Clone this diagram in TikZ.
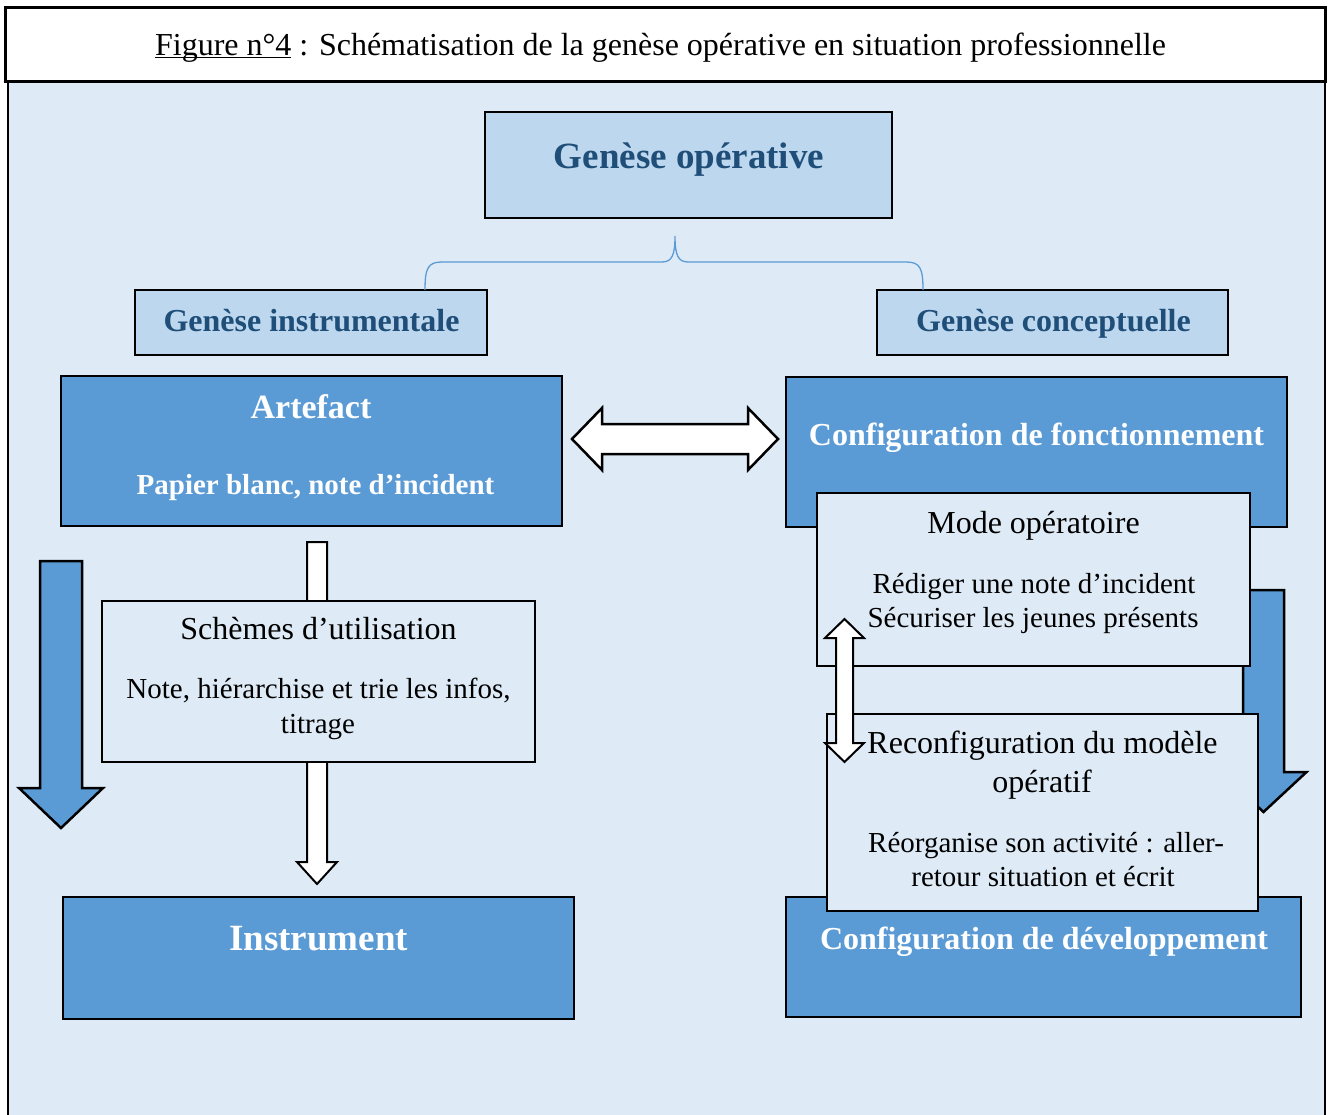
\documentclass[tikz,border=0pt]{standalone}
\usepackage{fontspec}
\setmainfont{Liberation Serif}
\usetikzlibrary{calc}
\definecolor{bgblue}{HTML}{DEEBF7}
\definecolor{lightblue}{HTML}{BDD7EE}
\definecolor{midblue}{HTML}{5B9BD5}
\definecolor{darkblue}{HTML}{1F4E79}
% vertical block arrow pointing down: #1 top, #2 tip, #3 shaft half width, #4 head half width, #5 head length, #6 style
\newcommand{\blockdown}[6]{%
  \draw[#6] ($(#1)+(-#3,0)$) -- ($(#1)+(#3,0)$) -- ($(#2)+(#3,-#5)$) -- ($(#2)+(#4,-#5)$) -- (#2)
    -- ($(#2)+(-#4,-#5)$) -- ($(#2)+(-#3,-#5)$) -- cycle;}
% horizontal double block arrow: #1 left tip, #2 right tip
\newcommand{\blockhdbl}[6]{%
  \draw[#6] (#1) -- ($(#1)+(#5,-#4)$) -- ($(#1)+(#5,-#3)$) -- ($(#2)+(-#5,-#3)$) -- ($(#2)+(-#5,-#4)$) -- (#2)
    -- ($(#2)+(-#5,#4)$) -- ($(#2)+(-#5,#3)$) -- ($(#1)+(#5,#3)$) -- ($(#1)+(#5,#4)$) -- cycle;}
% vertical double block arrow: #1 top tip, #2 bottom tip
\newcommand{\blockvdbl}[6]{%
  \draw[#6] (#1) -- ($(#1)+(#4,#5)$) -- ($(#1)+(#3,#5)$) -- ($(#2)+(#3,-#5)$) -- ($(#2)+(#4,-#5)$) -- (#2)
    -- ($(#2)+(-#4,-#5)$) -- ($(#2)+(-#3,-#5)$) -- ($(#1)+(-#3,#5)$) -- ($(#1)+(-#4,#5)$) -- cycle;}
\begin{document}
\begin{tikzpicture}[x=1pt,y=-1pt,
  frame/.style={draw=black,line width=2.5pt,inner sep=0pt,outer sep=0pt},
  lightbox/.style={frame,fill=lightblue},
  bluebox/.style={frame,fill=midblue},
  palebox/.style={frame,fill=bgblue,line width=2pt},
  txt/.style={anchor=base,inner sep=0pt,outer sep=0pt},
  headtxt/.style={txt,text=darkblue,font=\bfseries\fontsize{32}{38}\selectfont},
  whitetxt/.style={txt,text=white,font=\bfseries\fontsize{32}{38}\selectfont},
  titletxt/.style={txt,font=\fontsize{32}{38}\selectfont},
  subtxt/.style={txt,font=\fontsize{32}{38}\selectfont},
  bodytxt/.style={txt,font=\fontsize{29}{35}\selectfont},
  bluearrow/.style={draw=black,fill=midblue,line width=2.5pt,line join=miter},
  whitearrow/.style={draw=black,fill=white,line width=2pt,line join=miter},
  brace/.style={draw=midblue,line width=1.3pt}
]
\useasboundingbox (0,0) rectangle (1329,1115);

% background panel
\draw[fill=bgblue,line width=2.5pt] (8,82) rectangle (1325,1135);

% title
\node[frame,fill=white,line width=3pt,minimum width=1320pt,minimum height=74pt] (titlebox) at (665,45) {};
\node[titletxt] (titletext) at (660.5,56) {\underline{\smash{Figure n°4}} : Schématisation de la genèse opérative en situation professionnelle};

% top boxes
\node[lightbox,minimum width=407pt,minimum height=106pt] (go) at (688.5,165) {};
\node[headtxt,font=\bfseries\fontsize{37}{44}\selectfont] (gotext) at (689,169) {Genèse opérative};

\node[lightbox,minimum width=352pt,minimum height=65pt] (gi) at (311,322.5) {};
\node[headtxt] (gitext) at (311.5,331) {Genèse instrumentale};

\node[lightbox,minimum width=351pt,minimum height=65pt] (gc) at (1052.5,322.5) {};
\node[headtxt] (gctext) at (1053.5,331) {Genèse conceptuelle};

% brace
\coordinate (brTop) at (675,236);
\coordinate (brL) at (425,290);
\coordinate (brR) at (923,290);
\draw[brace] (brL) .. controls (425,268) and (428,262) .. (442,262) -- (662,262)
  .. controls (672,262) and (675,255) .. (brTop)
  .. controls (675,255) and (678,262) .. (688,262) -- (906,262)
  .. controls (920,262) and (923,268) .. (brR);

% artefact and configuration de fonctionnement
\node[bluebox,minimum width=501pt,minimum height=150pt] (art) at (311.5,451) {};
\node[whitetxt,font=\bfseries\fontsize{34}{40}\selectfont] (arttext) at (311,418) {Artefact};
\node[whitetxt,font=\bfseries\fontsize{29}{35}\selectfont] (arttext2) at (315.5,494) {Papier blanc, note d’incident};

\node[bluebox,minimum width=501pt,minimum height=150pt] (cf) at (1036.5,452) {};
\node[whitetxt] (cftext) at (1036.5,445) {Configuration de fonctionnement};

% double horizontal arrow
\coordinate (hL) at (572,439);
\coordinate (hR) at (778,439);
\blockhdbl{hL}{hR}{15}{31}{30}{whitearrow,line width=2.5pt}

% left blue arrow
\coordinate (lbTop) at (61,561);
\coordinate (lbTip) at (61,828);
\blockdown{lbTop}{lbTip}{21}{42}{40}{bluearrow}

% white arrow artefact -> instrument
\coordinate (waTop) at (317,542);
\coordinate (waTip) at (317,884);
\blockdown{waTop}{waTip}{10}{20}{22}{whitearrow}

% schemes d'utilisation
\node[palebox,minimum width=433pt,minimum height=161pt] (sch) at (318.5,681.5) {};
\node[subtxt] (schtext) at (318.5,639) {Schèmes d’utilisation};
\node[bodytxt] (schtext2) at (318.5,698) {Note, hiérarchise et trie les infos,};
\node[bodytxt] (schtext3) at (318,733) {titrage};

% instrument
\node[bluebox,minimum width=511pt,minimum height=122pt] (inst) at (318.5,958) {};
\node[whitetxt,font=\bfseries\fontsize{37}{44}\selectfont] (insttext) at (318.5,950) {Instrument};

% right blue arrow
\coordinate (rbTop) at (1263.5,590);
\coordinate (rbTip) at (1263.5,812);
\blockdown{rbTop}{rbTip}{20.5}{43}{40}{bluearrow}

% mode operatoire
\node[palebox,minimum width=433pt,minimum height=173pt] (mode) at (1033.5,579.5) {};
\node[subtxt] (modetext) at (1033.5,533) {Mode opératoire};
\node[bodytxt] (modetext2) at (1034,593) {Rédiger une note d’incident};
\node[bodytxt] (modetext3) at (1033,627) {Sécuriser les jeunes présents};

% configuration de developpement
\node[bluebox,minimum width=515pt,minimum height=120pt] (cd) at (1043.5,957) {};
\node[whitetxt] (cdtext) at (1044,949) {Configuration de développement};

% reconfiguration
\node[palebox,minimum width=431pt,minimum height=197pt] (rec) at (1042.5,812.5) {};
\node[subtxt] (rectext) at (1042.5,753) {Reconfiguration du modèle};
\node[subtxt] (rectext2) at (1042,792) {opératif};
\node[bodytxt] (rectext3) at (1046,852) {Réorganise son activité : aller-};
\node[bodytxt] (rectext4) at (1043,886) {retour situation et écrit};

% small vertical double arrow
\coordinate (vT) at (844.5,619);
\coordinate (vB) at (844.5,762);
\blockvdbl{vT}{vB}{8.5}{19.5}{19}{whitearrow}
\end{tikzpicture}
\end{document}
